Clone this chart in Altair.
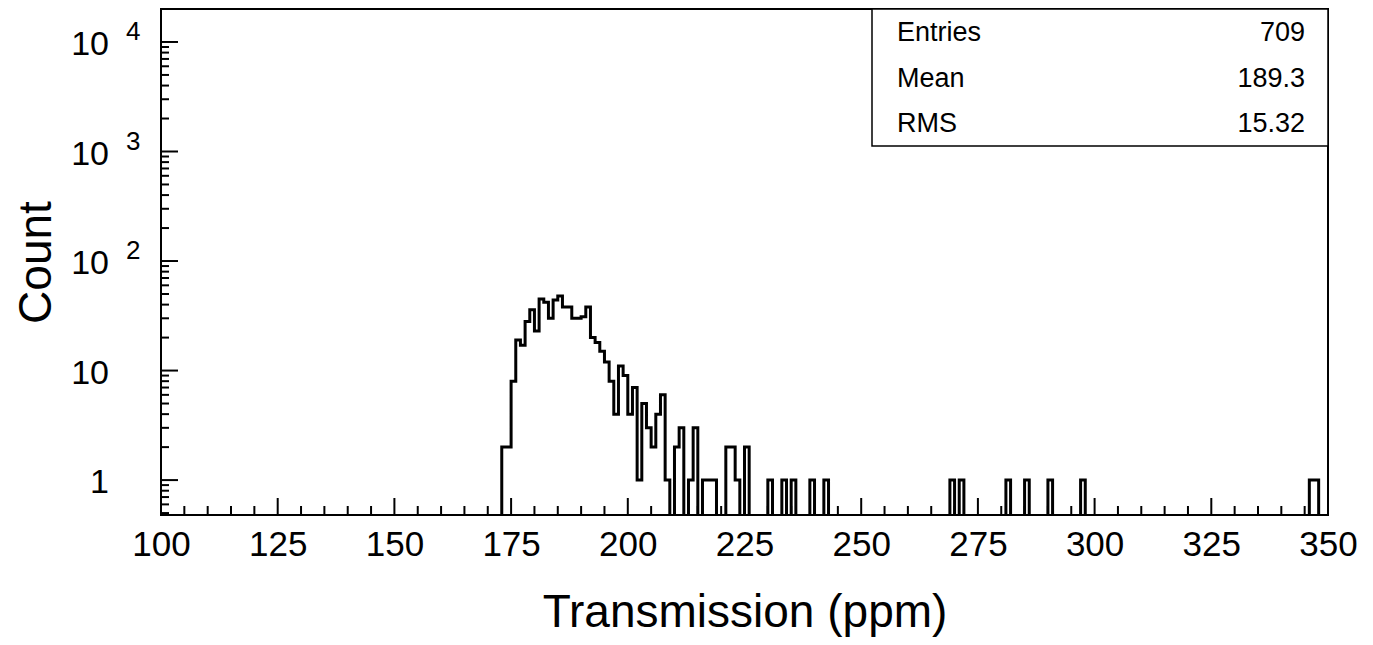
import altair as alt
import pandas as pd

# ---------------- data ----------------
X_MIN, X_MAX = 100, 350          # histogram range, bin width 1
Y_MIN, Y_MAX = 0.48, 20000

filled_bins = [173, 174, 175, 176, 177, 178, 179, 180, 181, 182, 183, 184, 185,
               186, 187, 188, 189, 190, 191, 192, 193, 194, 195, 196, 197, 198,
               199, 200, 201, 202, 203, 204, 205, 206, 207, 208, 210, 211, 213,
               214, 216, 217, 218, 221, 222, 223, 225, 230, 233, 235, 239, 242,
               269, 271, 281, 285, 290, 297, 346, 347]
filled_counts = [2, 2, 8, 19, 17, 28, 36, 23, 45, 42, 30, 44, 48,
                 38, 38, 30, 30, 31, 38, 20, 18, 15, 12, 8, 4, 11,
                 9, 4, 7, 1, 5, 3, 2, 4, 6, 1, 2, 3, 1,
                 3, 1, 1, 1, 2, 2, 1, 2, 1, 1, 1, 1, 1,
                 1, 1, 1, 1, 1, 1, 1, 1]

x_major = [100, 125, 150, 175, 200, 225, 250, 275, 300, 325, 350]
x_minor = [v for v in range(100, 351, 5) if v % 25 != 0]
y_major = [1, 10, 100, 1000, 10000]
y_minor = [0.5, 0.6, 0.7, 0.8, 0.9] + [m * d for d in (1, 10, 100, 1000) for m in range(2, 10)]
y_label_base = ["1", "10", "10", "10", "10"]
y_label_exp = ["", "", "2", "3", "4"]

stat_names = ["Entries", "Mean", "RMS"]
stat_values = ["709", "189.3", "15.32"]

x_title = "Transmission (ppm)"
y_title = "Count"

# ---------------- build tables ----------------
count_map = dict(zip(filled_bins, filled_counts))
edges = list(range(X_MIN, X_MAX))
counts = [count_map.get(b, 0) for b in edges]
# zero bins are drawn below the frame (clipped), as ROOT does on a log axis
plot_counts = [c if c > 0 else 0.01 for c in counts]
hist_df = pd.DataFrame({"x": edges + [X_MAX], "y": plot_counts + [plot_counts[-1]]})

W, H = 1167, 506
FONT = "Liberation Sans"

xscale = alt.Scale(domain=[X_MIN, X_MAX], nice=False, zero=False)
yscale = alt.Scale(type="log", domain=[Y_MIN, Y_MAX], nice=False)

xaxis = alt.Axis(
    values=x_major, ticks=False, domain=False, grid=False, tickSize=0,
    labelFontSize=35, labelFont=FONT, labelColor="black", labelPadding=12,
    labelFlush=False, labelOverlap=False,
    title=x_title, titleFontSize=46, titleFont=FONT, titleFontWeight="normal",
    titleColor="black", titleX=W / 2, titleY=111, titleAlign="center",
    titleBaseline="alphabetic")
yaxis = alt.Axis(
    labels=False, ticks=False, domain=False, grid=False, tickSize=0,
    title=y_title, titleFontSize=46, titleFont=FONT, titleFontWeight="normal",
    titleColor="black", titleX=-111, titleY=H / 2, titleAngle=270,
    titleAlign="center", titleBaseline="alphabetic")

hist = alt.Chart(hist_df).mark_line(
    interpolate="step-after", color="black", strokeWidth=3, clip=True
).encode(
    x=alt.X("x:Q", scale=xscale, axis=xaxis),
    y=alt.Y("y:Q", scale=yscale, axis=yaxis),
)

def xticks(vals, length):
    return alt.Chart(pd.DataFrame({"v": vals})).mark_rule(color="black", strokeWidth=2).encode(
        x=alt.X("v:Q", scale=xscale, axis=xaxis),
        y=alt.value(H), y2=alt.value(H - length))

def yticks(vals, length):
    return alt.Chart(pd.DataFrame({"v": vals})).mark_rule(color="black", strokeWidth=2).encode(
        y=alt.Y("v:Q", scale=yscale, axis=yaxis),
        x=alt.value(0), x2=alt.value(length))

ylab_df = pd.DataFrame({"v": y_major, "base": y_label_base, "exp": y_label_exp})
ylab_base = alt.Chart(ylab_df).mark_text(
    align="right", baseline="middle", fontSize=34, font=FONT, color="black", dy=3
).encode(y=alt.Y("v:Q", scale=yscale, axis=yaxis), x=alt.value(-52), text="base:N")
ylab_exp = alt.Chart(ylab_df).transform_filter("datum.exp != ''").mark_text(
    align="left", baseline="middle", fontSize=26, font=FONT, color="black", dy=-10
).encode(y=alt.Y("v:Q", scale=yscale, axis=yaxis), x=alt.value(-35), text="exp:N")

box = alt.Chart(pd.DataFrame({"a": [0]})).mark_rect(
    fill="white", stroke="black", strokeWidth=1.5
).encode(x=alt.value(711), x2=alt.value(W), y=alt.value(0), y2=alt.value(137))

stat_layers = []
row_h = 137 / 3
for i, (n, v) in enumerate(zip(stat_names, stat_values)):
    yc = row_h * (i + 0.5) + 1
    stat_layers.append(alt.Chart(pd.DataFrame({"t": [n]})).mark_text(
        align="left", baseline="middle", fontSize=27, font=FONT, color="black"
    ).encode(text="t:N", x=alt.value(736), y=alt.value(yc)))
    stat_layers.append(alt.Chart(pd.DataFrame({"t": [v]})).mark_text(
        align="right", baseline="middle", fontSize=27, font=FONT, color="black"
    ).encode(text="t:N", x=alt.value(1144), y=alt.value(yc)))

chart = alt.layer(
    hist,
    xticks(x_major, 17), xticks(x_minor, 9),
    yticks(y_major, 17), yticks(y_minor, 8),
    ylab_base, ylab_exp,
    box, *stat_layers,
).properties(
    width=W, height=H,
    autosize=alt.AutoSizeParams(type="none"),
    padding={"left": 153, "top": 1, "right": 35, "bottom": 122},
    background="white",
).configure_view(stroke="black", strokeWidth=2)

chart.save("out.html", embed_options={"renderer": "svg", "actions": False})
